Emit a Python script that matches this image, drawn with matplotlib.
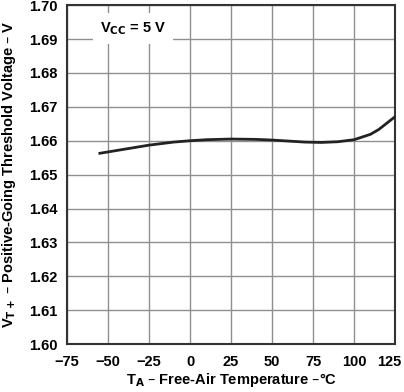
import matplotlib.pyplot as plt
import matplotlib.transforms as mtransforms

# Values
temp_c = [-55, -40, -25, -10, 0, 10, 25, 40, 50, 60, 70, 80, 90, 100, 110, 115, 120, 125]
vt_plus = [1.6563, 1.6575, 1.6587, 1.6596, 1.6600, 1.6603, 1.6605, 1.6604, 1.6602,
           1.6599, 1.6596, 1.6595, 1.6597, 1.6603, 1.6619, 1.6633, 1.6652, 1.6671]

x_ticks = [-75, -50, -25, 0, 25, 50, 75, 100, 125]
x_tick_labels = ['\u221275', '\u221250', '\u221225', '0', '25', '50', '75', '100', '125']
y_ticks = [1.60, 1.61, 1.62, 1.63, 1.64, 1.65, 1.66, 1.67, 1.68, 1.69, 1.70]

plt.rcParams['font.family'] = ['Liberation Sans', 'DejaVu Sans']
plt.rcParams['font.weight'] = 'bold'

fig = plt.figure(figsize=(4.04, 3.92), dpi=100)
ax = fig.add_axes([0.166, 0.122, 0.812, 0.865])

ax.plot(temp_c, vt_plus, color='#222222', linewidth=2.0, zorder=3)

ax.set_xlim(-75, 125)
ax.set_ylim(1.60, 1.70)
ax.set_xticks(x_ticks)
ax.set_xticklabels(x_tick_labels)
ax.set_yticks(y_ticks)
ax.set_yticklabels([f'{v:.2f}' for v in y_ticks])
ax.tick_params(axis='both', length=0, labelsize=10.5)
ax.tick_params(axis='x', pad=8)
ax.tick_params(axis='y', pad=7)
# last x label is pulled in so it stays inside the picture
last = ax.get_xticklabels()[-1]
last.set_transform(last.get_transform() +
                   mtransforms.ScaledTranslation(-6 / 100, 0, fig.dpi_scale_trans))

ax.grid(True, color='#8f8f8f', linewidth=1.0)
for sp in ax.spines.values():
    sp.set_linewidth(1.5)
    sp.set_color('#333333')

ax.set_xlabel('T$_\\mathbf{A}$ \u2013 Free-Air Temperature \u2013\u00b0C',
              fontsize=10.5, fontweight='bold', labelpad=1)
ax.set_ylabel('V$_\\mathbf{T+}$ \u2013 Positive-Going Threshold Voltage \u2013 V',
              fontsize=10.5, fontweight='bold', labelpad=8)

ax.text(-55, 1.6932, 'V$_\\mathbf{CC}$ = 5 V', fontsize=10.5, fontweight='bold',
        va='center', ha='left',
        bbox=dict(facecolor='white', edgecolor='none', pad=5), zorder=4)

fig.savefig('out.png', dpi=100)
